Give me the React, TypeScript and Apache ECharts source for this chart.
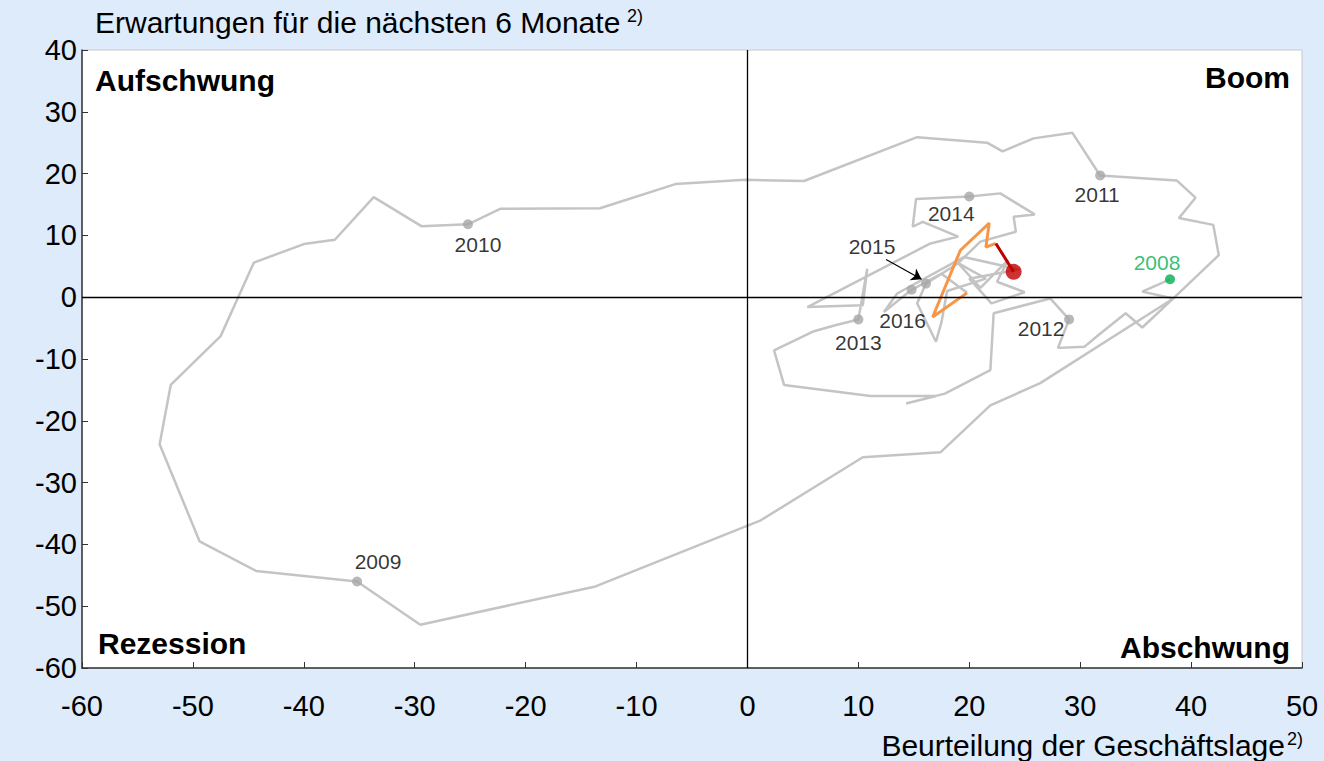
import React, { useEffect, useRef } from "react";
import * as echarts from "echarts";

// Business situation (x) vs expectations (y), monthly path
const path2008 = [[38.1, 2.9], [35.6, 0.9], [38.4, -0.2], [26.4, -13.9], [21.9, -17.5], [17.4, -25.1], [10.4, -25.9], [1.2, -36.1], [-13.7, -46.8], [-29.5, -53.0]];
const path2009 = [[-35.2, -46.0], [-44.3, -44.3], [-49.4, -39.5], [-53.0, -23.8], [-52.0, -14.2], [-47.5, -6.3], [-44.5, 5.6], [-40.0, 8.6], [-37.2, 9.3], [-33.7, 16.2], [-29.4, 11.5]];
const path2010 = [[-25.2, 11.8], [-22.3, 14.3], [-13.3, 14.4], [-6.5, 18.3], [-0.2, 19.0], [5.1, 18.8], [15.3, 25.9], [21.6, 25.0], [23.0, 23.6], [25.8, 25.7], [29.3, 26.6]];
const path2011 = [[31.8, 19.7], [38.7, 18.9], [40.4, 16.1], [38.9, 12.8], [42.0, 11.7], [42.5, 6.8], [38.4, -0.2], [35.6, -4.9], [34.1, -2.6], [31.6, -6.2], [30.4, -8.0], [28.0, -8.2]];
const path2012 = [[29.0, -3.6], [27.3, -0.2], [22.2, -2.6], [21.9, -11.8], [17.8, -15.6], [14.3, -17.2], [17.0, -16.0], [11.1, -16.0], [3.3, -14.2], [2.4, -8.6], [6.0, -5.5], [8.0, -4.5]];
const path2013 = [[10.0, -3.6], [10.8, 4.6], [10.4, -1.3], [5.4, -1.6], [16.5, 8.7], [19.0, 9.8], [15.8, 12.2], [14.9, 11.4], [15.2, 15.9]];
const path2014 = [[20.0, 16.3], [22.8, 16.8], [25.9, 13.4], [24.0, 13.0], [24.2, 10.6], [21.0, 9.0], [19.0, 5.5], [21.5, 3.0], [18.0, 1.0], [17.5, -4.0], [17.0, -7.2], [15.3, -1.0]];
const path2015 = [[16.1, 2.2], [19.0, 5.5], [21.0, 1.5], [23.5, 6.0], [22.5, 2.5], [25.0, 0.8], [22.0, -1.0], [20.0, 3.0], [24.5, 4.5], [19.5, 6.5], [13.5, 0.6], [12.3, -2.4]];
const path2016 = [[14.8, 1.2], [17.5, 3.8], [19.8, 0.7]];
const orangePath = [[19.8, 0.7], [16.7, -3.2], [19.2, 7.6], [21.8, 12.0], [21.5, 8.1], [22.4, 8.7]];
const redPath = [[22.4, 8.7], [24.0, 4.1]];

const yearLabels = ["2008", "2009", "2010", "2011", "2012", "2013", "2014", "2015", "2016"];
const yearDots = [[38.1, 2.9], [-35.2, -46.0], [-25.2, 11.8], [31.8, 19.7], [29.0, -3.6], [10.0, -3.6], [20.0, 16.3], [16.1, 2.2], [14.8, 1.2]];
const yearLabelOffsets = [[-13, -17], [21, -20], [10, 20], [-3, 19], [-28, 9], [0, 23], [-18, 17], [-54, -37], [-9, 31]];
const arrow2015 = [[12.5, 6.1], [15.7, 2.9]];

const xTicks = { min: -60, max: 50, interval: 10 };
const yTicks = { min: -60, max: 40, interval: 10 };

const FONT = "'Liberation Sans', Arial, sans-serif";

export default function App() {
  const ref = useRef<HTMLDivElement>(null);
  useEffect(() => {
    if (!ref.current) return;
    const chart = echarts.init(ref.current, null, { renderer: "svg" });
    const grayPath = [...path2008, ...path2009, ...path2010, ...path2011, ...path2012, ...path2013, ...path2014, ...path2015, ...path2016];
    const dots = yearDots.map((d, i) => ({
      value: d,
      itemStyle: { color: i === 0 ? "#00B050" : "#A6A6A6" },
      label: {
        show: true,
        formatter: yearLabels[i],
        position: "inside",
        offset: yearLabelOffsets[i],
        color: i === 0 ? "#00B050" : "#000",
        fontSize: 21,
        fontFamily: FONT,
      },
    }));
    chart.setOption({
      animation: false,
      backgroundColor: "#DDEBFB",
      grid: { left: 82, right: 22, top: 50, bottom: 93, show: true, backgroundColor: "#fff", borderColor: "#c8c8c8", borderWidth: 1 },
      xAxis: {
        type: "value", ...xTicks,
        axisLine: { show: true, onZero: false, lineStyle: { color: "#333", width: 1.5 } },
        axisTick: { show: true, inside: true, length: 6, lineStyle: { color: "#333" } },
        splitLine: { show: false },
        axisLabel: { color: "#000", fontSize: 29, fontFamily: FONT, margin: 23 },
      },
      yAxis: {
        type: "value", ...yTicks,
        axisLine: { show: true, onZero: false, lineStyle: { color: "#333", width: 1.5 } },
        axisTick: { show: true, inside: true, length: 6, lineStyle: { color: "#333" } },
        splitLine: { show: false },
        axisLabel: { color: "#000", fontSize: 29, fontFamily: FONT, margin: 5 },
      },
      series: [
        {
          type: "line", data: grayPath, symbol: "none", silent: true,
          lineStyle: { color: "#C4C4C4", width: 2.5 },
          markLine: {
            silent: true, symbol: "none", label: { show: false },
            lineStyle: { color: "#000", width: 1.3, type: "solid" },
            data: [{ xAxis: 0 }, { yAxis: 0 }],
          },
          z: 2,
        },
        {
          type: "line", data: orangePath, symbol: "none", silent: true,
          lineStyle: { color: "#F79646", width: 3 }, z: 3,
        },
        {
          type: "line", data: redPath, symbol: "none", silent: true,
          lineStyle: { color: "#C00000", width: 3 }, z: 4,
          markLine: {
            silent: true, symbol: ["none", "arrow"], symbolSize: 10, label: { show: false },
            lineStyle: { color: "#000", width: 1.2, type: "solid" },
            data: [[{ coord: arrow2015[0] }, { coord: arrow2015[1] }]],
          },
        },
        {
          type: "scatter", data: dots, symbolSize: 10, silent: true, z: 5,
        },
        {
          type: "scatter", data: [redPath[1]], symbolSize: 16, silent: true, z: 6,
          itemStyle: { color: "#C00000" },
        },
      ],
      graphic: [
        { type: "text", x: 95, y: 22, style: { text: "Erwartungen für die nächsten 6 Monate", fontSize: 30, fontFamily: FONT, fill: "#000", align: "left", verticalAlign: "middle" } },
        { type: "text", x: 627, y: 16, style: { text: "2)", fontSize: 18, fontFamily: FONT, fill: "#000", align: "left", verticalAlign: "middle" } },
        { type: "text", x: 1285, y: 745, style: { text: "Beurteilung der Geschäftslage", fontSize: 30, fontFamily: FONT, fill: "#000", align: "right", verticalAlign: "middle" } },
        { type: "text", x: 1287, y: 739, style: { text: "2)", fontSize: 18, fontFamily: FONT, fill: "#000", align: "left", verticalAlign: "middle" } },
        { type: "text", x: 95, y: 80, style: { text: "Aufschwung", fontSize: 30, fontWeight: "bold", fontFamily: FONT, fill: "#000", align: "left", verticalAlign: "middle" } },
        { type: "text", x: 1290, y: 77, style: { text: "Boom", fontSize: 30, fontWeight: "bold", fontFamily: FONT, fill: "#000", align: "right", verticalAlign: "middle" } },
        { type: "text", x: 98, y: 643, style: { text: "Rezession", fontSize: 30, fontWeight: "bold", fontFamily: FONT, fill: "#000", align: "left", verticalAlign: "middle" } },
        { type: "text", x: 1290, y: 647, style: { text: "Abschwung", fontSize: 30, fontWeight: "bold", fontFamily: FONT, fill: "#000", align: "right", verticalAlign: "middle" } },
      ],
    });
    return () => chart.dispose();
  }, []);
  return (
    <div style={{ position: "absolute", left: 0, top: 0, width: 1324, height: 761, background: "#DDEBFB" }}>
      <div ref={ref} style={{ width: 1324, height: 761 }} />
    </div>
  );
}
